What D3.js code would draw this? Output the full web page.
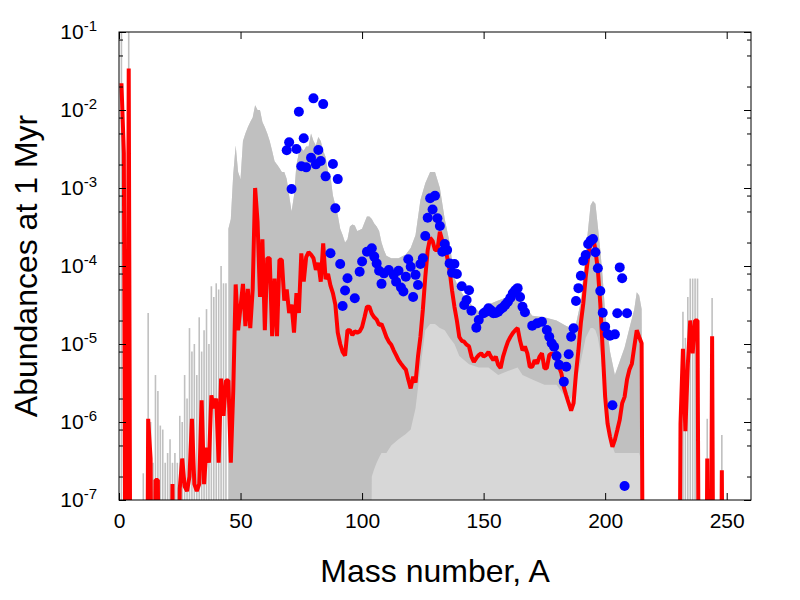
<!DOCTYPE html>
<html>
<head>
<meta charset="utf-8">
<script src="https://cdn.jsdelivr.net/npm/d3@7"></script>
<style>
  body { margin: 0; background: #fff; }
  text { font-family: "Liberation Sans", Arial, Helvetica, sans-serif; }
</style>
</head>
<body>
<div id="chart"></div>
<script>
// ---- data ----
// red curve: abundance for A = redStartA, redStartA+1, ... (0 = below the plot)
var redStartA = 1;
var redValues = [
  0.022, 2.8e-3, 0, 0.034, 0, 0, 0, 0, 0, 0,            // 1-10
  0, 1.1e-6, 3.4e-7, 0, 1.8e-7, 1.8e-7, 0, 0, 0, 0,      // 11-20
  0, 1.6e-7, 0, 0, 1.4e-7, 3.4e-7, 1.5e-7, 1.3e-7, 2e-7, 1.1e-6, // 21-30
  1.6e-7, 1.3e-7, 1.6e-7, 1.9e-6, 1.6e-7, 4.7e-7, 3e-7, 2.2e-6, 1.5e-6, 2e-6, // 31-40
  3e-7, 3.6e-6, 1.2e-6, 3.4e-6, 3.4e-6, 3e-7, 2.5e-6, 5.8e-5, 1.5e-5, 3e-5, // 41-50
  5.9e-5, 1.7e-5, 5.1e-5, 1.6e-5, 5e-5, 1e-3, 3.7e-4, 4e-5, 2.2e-4, 1.5e-5, // 51-60
  1.26e-4, 1.26e-4, 1.26e-5, 6.9e-5, 1.26e-5, 1.2e-4, 1.2e-4, 3.6e-5, 5e-5, 2.5e-5, // 61-70
  3.2e-5, 1.4e-5, 4.5e-5, 2.5e-5, 1.45e-4, 6.3e-5, 1.3e-4, 1.5e-4, 1.4e-4, 1.26e-4, // 71-80
  8.9e-5, 1.1e-4, 6.3e-5, 1.95e-4, 6.8e-5, 7.9e-5, 5.6e-5, 4.5e-5, 3.2e-5, 1.4e-5, // 81-90
  1e-5, 7.9e-6, 7.1e-6, 1.5e-5, 1.5e-5, 1.3e-5, 1.45e-5, 1.4e-5, 1.45e-5, 1.65e-5, // 91-100
  2.2e-5, 3e-5, 3e-5, 2.45e-5, 2.2e-5, 2.05e-5, 1.75e-5, 1.8e-5, 1.5e-5, 1.23e-5, // 101-110
  1.07e-5, 9.8e-6, 8.3e-6, 7.2e-6, 6.2e-6, 5.6e-6, 5.1e-6, 4.7e-6, 3.5e-6, 2.7e-6, // 111-120
  3.8e-6, 3.2e-6, 6.9e-6, 1.23e-5, 2.75e-5, 7.2e-5, 1.6e-4, 2.3e-4, 2.1e-4, 1.6e-4, // 121-130
  1.6e-4, 2.75e-4, 2.1e-4, 1.8e-4, 1.3e-4, 8.9e-5, 4.9e-5, 3e-5, 2e-5, 1.23e-5, // 131-140
  1.1e-5, 1.07e-5, 9.8e-6, 9.3e-6, 6.9e-6, 5.9e-6, 6.6e-6, 7.2e-6, 7.6e-6, 6.9e-6, // 141-150
  7.2e-6, 7.9e-6, 6.9e-6, 6.2e-6, 6.9e-6, 5.4e-6, 4.9e-6, 6.9e-6, 8.7e-6, 1.07e-5, // 151-160
  1.23e-5, 1.38e-5, 1.5e-5, 1.6e-5, 1.1e-5, 8.3e-6, 9.3e-6, 7.6e-6, 5.1e-6, 5.1e-6, // 161-170
  6.2e-6, 5.6e-6, 6.9e-6, 7.6e-6, 4.9e-6, 4.9e-6, 7.2e-6, 7.6e-6, 7.2e-6, 6.9e-6, // 171-180
  5.1e-6, 4.2e-6, 2.8e-6, 2.2e-6, 1.74e-6, 1.4e-6, 1.74e-6, 4.2e-6, 8.3e-6, 1.86e-5, // 181-190
  3.3e-5, 7.2e-5, 1.3e-4, 2.1e-4, 2.4e-4, 1.6e-4, 8.9e-5, 3.3e-5, 8.3e-6, 2.1e-6, // 191-200
  9.5e-7, 6.5e-7, 4.8e-7, 5.9e-7, 7.9e-7, 1.07e-6, 1.74e-6, 2.1e-6, 3.5e-6, 4.7e-6, // 201-210
  5.6e-6, 9.3e-6, 1.5e-5, 1.23e-5, 1.02e-5, 0, 0, 0, 0, 0, // 211-220
  0, 0, 0, 0, 0, 0, 0, 0, 0, 0,                          // 221-230
  9.5e-7, 8.7e-6, 7.6e-7, 5.4e-6, 2e-5, 7.6e-6, 2e-5, 2e-5, 0, 0, // 231-240
  0, 3.4e-7, 0, 1.26e-5, 0, 0, 0, 2.4e-7, 0, 0           // 241-250
];

// grey model runs, light and heavy ends: single spikes (mass number, height)
var graySpikeA = [1, 4, 10, 12, 13, 14, 15, 16, 17, 18, 19, 20, 21, 22, 23, 24, 25, 26, 27, 28, 29, 30,
  31, 32, 33, 34, 35, 36, 37, 38, 39, 40, 41, 42, 43, 44,
  231, 232, 233, 234, 235, 236, 237, 238, 242, 244, 248];
var graySpikeTop = [0.1, 0.1, 2.2e-7, 2.5e-5, 1e-6, 3e-7, 4e-6, 2.5e-6, 9e-7, 8e-7, 3e-7, 4e-7, 6e-7, 3e-7, 4e-7, 3e-7, 1.2e-6, 1e-6, 4e-6, 2e-6, 1.6e-5, 8e-6,
  1e-5, 4e-6, 2.2e-5, 8e-6, 1.5e-5, 2.8e-5, 1e-5, 5.5e-5, 4e-5, 6e-5, 5e-5, 1e-4, 6e-5, 6e-5,
  1e-6, 2.6e-5, 1.2e-5, 4e-5, 6.9e-5, 6.9e-5, 6.9e-5, 6.9e-5, 1.1e-6, 3.9e-5, 6.8e-7];

// grey band of model runs in the middle: mass number, upper edge, lower edge of the dense part
var grayA = [45, 46, 47, 48, 49, 50, 51, 52, 53, 54, 55, 56, 57, 58, 59, 60,
  61, 62, 63, 64, 65, 66, 67, 68, 69, 70, 71, 72, 73, 74, 75, 76, 77, 78, 79, 80, 81, 82, 83, 84, 85, 86, 87, 88, 89, 90,
  91, 92, 93, 94, 95, 96, 97, 98, 99, 100, 101, 102, 103, 104, 105, 106, 107, 108, 109, 110, 112, 115, 118, 120, 122, 124,
  126, 128, 130, 132, 134, 136, 138, 140, 144, 148, 152, 156, 160, 164, 166, 170, 175, 180, 184, 186, 188, 190, 192, 194,
  195, 196, 197, 198, 199, 200, 202, 204, 206, 208, 210, 212, 213, 214, 215, 216];
var grayTop = [3e-4, 4e-4, 1.5e-3, 3.5e-3, 1.6e-3, 1.3e-3, 4e-3, 5e-3, 6e-3, 7e-3, 8e-3, 1.15e-2, 1e-2, 1e-2, 7e-3, 6e-3,
  5e-3, 4e-3, 3e-3, 2.2e-3, 2e-3, 1.8e-3, 1.6e-3, 1.6e-3, 1.3e-3, 8e-4, 5e-4, 8e-4, 2e-3, 2.8e-3, 3.2e-3, 3e-3, 3.4e-3, 3.4e-3, 5e-3, 4e-3, 3.5e-3, 4.5e-3, 4e-3, 3e-3, 2.5e-3, 1.6e-3, 1.4e-3, 8e-4, 6e-4, 4.5e-4,
  3e-4, 2.5e-4, 2e-4, 2.2e-4, 3.2e-4, 3.4e-4, 3.3e-4, 2.8e-4, 2.9e-4, 3e-4, 3.6e-4, 4.3e-4, 4.3e-4, 4e-4, 3.5e-4, 3.2e-4, 2.8e-4, 2e-4, 1.6e-4, 1.35e-4, 1.26e-4, 1.26e-4, 1.4e-4, 1.7e-4, 2.5e-4, 7e-4,
  1.15e-3, 1.6e-3, 1.6e-3, 1e-3, 4e-4, 2e-4, 7e-5, 5e-5, 3.4e-5, 2.6e-5, 3.2e-5, 3.6e-5, 4e-5, 5e-5, 3.4e-5, 2.3e-5, 2.2e-5, 2e-5, 1.7e-5, 1.6e-5, 1.8e-5, 3.5e-5, 1.5e-4, 6e-4,
  6.8e-4, 6.3e-4, 3.2e-4, 1.6e-4, 7e-5, 2.5e-5, 8e-6, 4e-6, 6e-6, 9e-6, 1.6e-5, 2.8e-5, 4.6e-5, 4.2e-5, 2.8e-5, 0];
var grayMid = [0, 0, 0, 0, 0, 0, 0, 0, 0, 0, 0, 0, 0, 0, 0, 0,
  0, 0, 0, 0, 0, 0, 0, 0, 0, 0, 0, 0, 0, 0, 0, 0, 0, 0, 0, 0, 0, 0, 0, 0, 0, 0, 0, 0, 0, 0,
  0, 0, 0, 0, 0, 0, 0, 0, 0, 0, 0, 0, 0, 2e-7, 2.5e-7, 3e-7, 3.5e-7, 4e-7, 4e-7, 4e-7, 5e-7, 6e-7, 7e-7, 8e-7, 1.5e-6, 5e-6,
  1.5e-5, 1.8e-5, 1.8e-5, 1.6e-5, 1.5e-5, 1.2e-5, 1e-5, 7e-6, 5.5e-6, 5e-6, 5e-6, 4e-6, 4.5e-6, 5e-6, 4e-6, 3.5e-6, 3e-6, 3e-6, 2e-6, 2e-6, 3e-6, 6e-6, 1.2e-5, 1.6e-5,
  1.6e-5, 1.5e-5, 1.2e-5, 8e-6, 4e-6, 1.5e-6, 6e-7, 4e-7, 4e-7, 4e-7, 4e-7, 4e-7, 4e-7, 4e-7, 3e-7, 0];

// blue points: mass number and abundance
var dotA = [69, 70, 71, 73, 74, 75, 76, 77, 79, 80, 81, 82, 83, 84, 85, 87, 88, 89, 90,
  91, 92, 93, 94, 97, 99, 100, 102, 104, 105, 106, 107, 108, 109, 111, 113, 114, 115, 116, 117, 118, 119, 120,
  121, 122, 123, 124, 125, 126, 127, 128, 129, 130, 131, 132, 133, 134, 135, 136, 137, 138, 139, 141, 142, 143, 144, 145,
  147, 148, 150, 151, 152, 153, 154, 155, 156, 157, 158, 159, 160, 161, 162, 163, 164, 165, 166, 167, 170, 172, 174, 176, 177, 178, 179, 180,
  181, 183, 184, 185, 186, 187, 188, 189, 190, 191, 192, 193, 194, 195, 196, 197, 198, 199, 200,
  201, 202, 203, 204, 205, 206, 207, 208, 209];
var dotV = [3.04e-3, 3.85e-3, 9.7e-4, 3.16e-3, 9.5e-3, 1.9e-3, 4.34e-3, 1.84e-3, 2.44e-3, 1.41e-2, 2.01e-3, 3.07e-3, 2.22e-3, 1.19e-2, 1.41e-3, 1.46e-4, 2.03e-3, 5.5e-4, 1.3e-3,
  1.06e-4, 3.07e-5, 4.85e-5, 6.95e-5, 3.86e-5, 8.45e-5, 1.14e-4, 1.52e-4, 1.69e-4, 1.32e-4, 1.08e-4, 8.7e-5, 5.9e-5, 8.05e-5, 8.9e-5, 7.7e-5, 6.3e-5, 8.7e-5, 5.3e-5, 4.7e-5, 7.3e-5, 1.22e-4, 9.8e-5,
  4.0e-5, 7.7e-5, 5.7e-5, 1.06e-4, 1.26e-4, 2.43e-4, 4.16e-4, 7.4e-4, 5.3e-4, 7.96e-4, 4.1e-4, 3.26e-4, 1.52e-4, 1.91e-4, 1.6e-4, 1.08e-4, 8.2e-5, 1.06e-4, 7.9e-5, 5.5e-5, 3.16e-5, 3.67e-5, 4.9e-5, 2.67e-5,
  1.62e-5, 2.03e-5, 2.48e-5, 2.6e-5, 2.87e-5, 2.7e-5, 2.48e-5, 2.5e-5, 2.6e-5, 2.8e-5, 2.95e-5, 3.2e-5, 3.48e-5, 3.9e-5, 4.47e-5, 4.9e-5, 5.2e-5, 4.0e-5, 3.0e-5, 2.55e-5, 1.72e-5, 1.84e-5, 1.93e-5, 1.51e-5, 1.24e-5, 1.02e-5, 9.2e-6, 7.0e-6,
  5.4e-6, 3.29e-6, 5.1e-6, 7.4e-6, 1.24e-5, 1.59e-5, 3.56e-5, 5.2e-5, 7.5e-5, 1.17e-4, 1.38e-4, 1.91e-4, 2.11e-4, 2.22e-4, 1.5e-4, 9.35e-5, 4.78e-5, 2.52e-5, 1.67e-5,
  1.34e-5, 1.28e-5, 1.64e-6, 1.33e-5, 2.48e-5, 9.6e-5, 6.95e-5, 1.51e-7, 2.48e-5];

// axes
var xTicks = [0, 50, 100, 150, 200, 250];
var yTicks = [1e-7, 1e-6, 1e-5, 1e-4, 1e-3, 1e-2, 1e-1];
var yTickExp = ["-7", "-6", "-5", "-4", "-3", "-2", "-1"];
var yMinorMant = [2, 5, 8];

// ---- drawing ----
var W = 800, H = 600;
var margin = { top: 32, right: 49, bottom: 100, left: 119 },
    width = W - margin.left - margin.right,
    height = H - margin.top - margin.bottom;

var svg = d3.select("#chart")
    .append("svg")
    .attr("width", W)
    .attr("height", H);

var g = svg.append("g")
    .attr("transform", "translate(" + margin.left + "," + margin.top + ")");

var x = d3.scaleLinear().domain([0, 260]).range([0, width]);
var y = d3.scaleLog().domain([1e-7, 1e-1]).range([height, 0]);

// values of 0 mean "below the plot": push them far down and let the clip cut them
function yy(v) { return y(Math.max(v, 1e-12)); }

g.append("clipPath").attr("id", "clip")
  .append("rect").attr("width", width).attr("height", height);

var plot = g.append("g").attr("clip-path", "url(#clip)");

var grayData = grayA.map(function (a, i) { return { a: a, top: grayTop[i], mid: grayMid[i] }; });

// sparse part of the grey band (light), then the dense part on top
plot.append("path")
    .datum(grayData)
    .attr("fill", "#d7d7d7")
    .attr("d", d3.area()
        .x(function (d) { return x(d.a); })
        .y0(yy(0))
        .y1(function (d) { return yy(d.top); }));

plot.append("path")
    .datum(grayData)
    .attr("fill", "#c0c0c0")
    .attr("d", d3.area()
        .x(function (d) { return x(d.a); })
        .y0(function (d) { return yy(d.mid); })
        .y1(function (d) { return yy(d.top); }));

// grey spikes at both ends
plot.append("g")
    .selectAll("line")
    .data(graySpikeA)
    .enter()
    .append("line")
    .attr("x1", function (d) { return x(d); })
    .attr("x2", function (d) { return x(d); })
    .attr("y1", y(1e-7))
    .attr("y2", function (d, i) { return y(graySpikeTop[i]); })
    .attr("stroke", "#c0c0c0")
    .attr("stroke-width", 1.6);

// red curve
plot.append("path")
    .datum(redValues)
    .attr("fill", "none")
    .attr("stroke", "#ff0000")
    .attr("stroke-width", 4)
    .attr("stroke-linejoin", "bevel")
    .attr("d", d3.line()
        .x(function (d, i) { return x(redStartA + i); })
        .y(function (d) { return yy(d); }));

// blue points
plot.append("g")
    .selectAll("circle")
    .data(dotA)
    .enter()
    .append("circle")
    .attr("cx", function (d) { return x(d); })
    .attr("cy", function (d, i) { return y(dotV[i]); })
    .attr("r", 5)
    .style("fill", "#0000ff");

// ticks, all pointing inward
var yMinor = [];
yTicks.slice(0, -1).forEach(function (t) {
  yMinorMant.forEach(function (m) { yMinor.push(t * m); });
});

function styleAxis(sel) {
  sel.select(".domain").remove();
  sel.selectAll("line").attr("stroke", "#000");
}

g.append("g")
    .attr("transform", "translate(0," + height + ")")
    .call(d3.axisBottom(x).tickValues(xTicks).tickSize(-7).tickPadding(13).tickFormat(d3.format("d")))
    .call(styleAxis)
    .selectAll("text").attr("font-size", 21).attr("fill", "#000");

g.append("g")
    .call(d3.axisTop(x).tickValues(xTicks).tickSize(-7).tickFormat(""))
    .call(styleAxis);

var yAxisG = g.append("g")
    .call(d3.axisLeft(y).tickValues(yTicks).tickSize(-7).tickPadding(22).tickFormat(""))
    .call(styleAxis);

yAxisG.selectAll(".tick text")
    .attr("font-size", 21)
    .attr("fill", "#000")
    .each(function (d, i) {
      var t = d3.select(this);
      t.append("tspan").text("10");
      t.append("tspan").attr("dy", "-0.55em").attr("font-size", 15).text(yTickExp[i]);
    });

g.append("g")
    .call(d3.axisLeft(y).tickValues(yMinor).tickSize(-4).tickFormat(""))
    .call(styleAxis);

g.append("g")
    .attr("transform", "translate(" + width + ",0)")
    .call(d3.axisRight(y).tickValues(yTicks).tickSize(-7).tickFormat(""))
    .call(styleAxis);

g.append("g")
    .attr("transform", "translate(" + width + ",0)")
    .call(d3.axisRight(y).tickValues(yMinor).tickSize(-4).tickFormat(""))
    .call(styleAxis);

// frame
g.append("rect")
    .attr("x", 0).attr("y", 0)
    .attr("width", width).attr("height", height)
    .attr("fill", "none")
    .attr("stroke", "#000")
    .attr("stroke-width", 1);

// axis titles
svg.append("text")
    .attr("x", margin.left + width / 2)
    .attr("y", 582)
    .attr("text-anchor", "middle")
    .attr("font-size", 32)
    .text("Mass number, A");

svg.append("text")
    .attr("transform", "translate(37," + (margin.top + height / 2) + ") rotate(-90)")
    .attr("text-anchor", "middle")
    .attr("font-size", 32)
    .text("Abundances at 1 Myr");
</script>
</body>
</html>
